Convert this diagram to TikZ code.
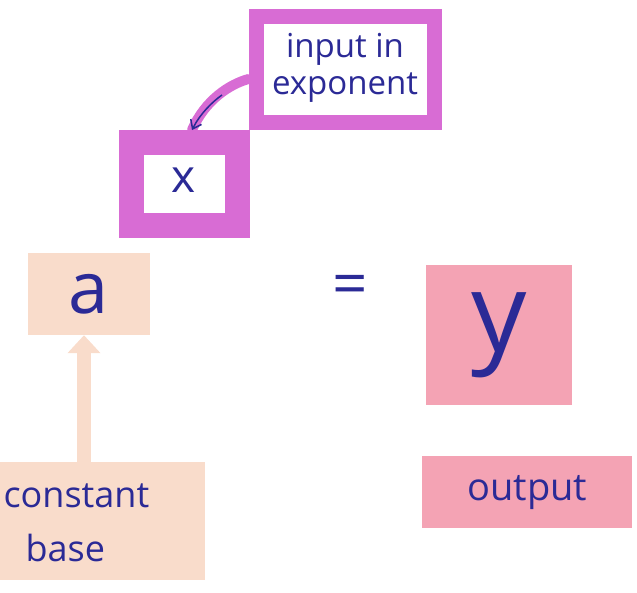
\documentclass[tikz,border=0pt]{standalone}
\usepackage{fontspec}
\setmainfont{Open Sans}
\usetikzlibrary{arrows.meta}
\definecolor{mag}{HTML}{D86CD4}
\definecolor{peach}{HTML}{F9DCCB}
\definecolor{pinkf}{HTML}{F4A3B4}
\definecolor{ink}{HTML}{2B2A96}
\tikzset{
  txt/.style={text=ink, font=\fontsize{#1}{#1}\selectfont, align=center},
  frame/.style={draw=mag, line width=#1, fill=white, inner sep=0},
}
\begin{document}
\begin{tikzpicture}[x=1pt,y=-1pt]
\useasboundingbox (0,0) rectangle (637,592);
% input in exponent
\node[frame=15pt, minimum width=178pt, minimum height=106pt] (inpbox) at (345,69) {};
\node[txt=33, inner sep=0] (inp) at (345,68) {input in\\[4pt]exponent};
% x box
\node[frame=25pt, minimum width=106pt, minimum height=83pt] (xbox) at (184,184) {};
\node[txt=46, inner sep=0] (xx) at (184,180) {x};
% arrow
\draw[mag, line width=10pt, line cap=round] ([yshift=-10pt]inpbox.west) .. controls (230,84) and (205,100) .. ([xshift=8pt]xbox.north);
\draw[ink, line width=1.5pt, -{Straight Barb[length=8pt,width=12pt]}] (222,95) .. controls (212,102) and (200,114) .. ([xshift=8pt]xbox.north);
% a box
\node[fill=peach, minimum width=122pt, minimum height=82pt, inner sep=0] (a) at (89,294) {};
\node[txt=72] at (a) {a};
% equals
\node[txt=62] (eq) at (350,290) {=};
% y box
\node[fill=pinkf, minimum width=146pt, minimum height=140pt, inner sep=0] (y) at (499,335) {};
\node[txt=110] at (y.center) {y};
% constant base
\node[fill=peach, minimum width=205pt, minimum height=118pt, inner sep=0, anchor=north west] (cb) at (0,462) {};
\node[txt=36, anchor=west] at (0,496) {constant};
\node[txt=36, anchor=west] at (22,548) {base};
% peach arrow
\draw[peach, line width=14pt, -{Triangle[length=18pt,width=32pt]}] (cb.north -| 84,0) -- (a.south -| 84,0);
% output
\node[fill=pinkf, minimum width=210pt, minimum height=72pt, inner sep=0, anchor=north west] (out) at (422,456) {};
\node[txt=38] at (out.center) {output};
\end{tikzpicture}
\end{document}
